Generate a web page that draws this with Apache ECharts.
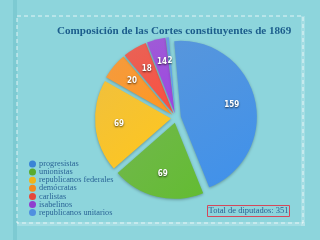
<!DOCTYPE html>
<html><head><meta charset="utf-8">
<script src="https://cdn.jsdelivr.net/npm/echarts@6/dist/echarts.min.js"></script>
<style>html,body{margin:0;padding:0;background:#8dd5dc;}#c{width:320px;height:240px;}</style>
</head><body><div id="c"></div>
<script>
const title = 'Composición de las Cortes constituyentes de 1869';
const categories = ['progresistas','unionistas','republicanos federales','demócratas','carlistas','isabelinos','republicanos unitarios'];
const seats = [159, 69, 69, 20, 18, 14, 2];
const colors = ['#3a84d6','#5aab2e','#efb51a','#f38a1e','#e5483a','#8f3fcf','#4f8fe0'];
const totalLabel = 'Total de diputados: 351';

const chart = echarts.init(document.getElementById('c'), null, {renderer:'canvas'});
const center = [176, 118];
const R = 76;
const pieData = categories.map((n,i)=>({
  name:n, value:seats[i], selected:true,
  itemStyle:{color:new echarts.graphic.LinearGradient(0,0,1,1,[{offset:0,color:echarts.color.lift(colors[i],0.15)},{offset:1,color:echarts.color.lift(colors[i],-0.1)}])}
}));
chart.setOption({
  backgroundColor:'#8dd5dc',
  animation:false,
  color: colors,
  title:{text:title,left:57,top:26,padding:0,
    textStyle:{fontFamily:'Liberation Serif',fontWeight:'bold',fontSize:11.1,color:'#1c5d8c'}},
  legend:{orient:'vertical',left:24,top:155,icon:'circle',itemWidth:7,itemHeight:7,itemGap:0.1,
    selectedMode:false,
    textStyle:{fontFamily:'Liberation Serif',fontSize:8.3,color:'#2a6496',padding:[0,0,0,-2]},
    data:categories.map((n,i)=>({name:n,itemStyle:{color:colors[i]}}))},
  graphic:[
    {type:'rect',shape:{x:13,y:0,width:4,height:240},style:{fill:'rgba(80,170,180,0.25)'},silent:true},
    {type:'rect',shape:{x:17,y:16,width:286,height:207},style:{fill:'none',stroke:'rgba(255,255,255,0.75)',lineWidth:1,lineDash:[4,3]},silent:true},
    {type:'rect',shape:{x:301,y:16,width:4,height:210},style:{fill:'rgba(255,255,255,0.2)'},silent:true},
    {type:'rect',shape:{x:17,y:222,width:288,height:4},style:{fill:'rgba(255,255,255,0.2)'},silent:true},
    {type:'rect',shape:{x:207.5,y:205.5,width:82,height:11},style:{fill:'none',stroke:'#d4485a',lineWidth:1},silent:true},
    {type:'text',x:248.5,y:211,style:{text:totalLabel,fontFamily:'Liberation Serif',fontSize:8.5,fill:'#2a5f92',align:'center',verticalAlign:'middle'},silent:true}
  ],
  series:[
    {type:'pie',center:center,radius:[0,R],startAngle:95,clockwise:true,selectedMode:'multiple',selectedOffset:5,
     label:{show:false},labelLine:{show:false},emphasis:{disabled:true},
     itemStyle:{shadowBlur:3,shadowColor:'rgba(0,0,0,0.3)',shadowOffsetY:1},
     data:pieData},
    {type:'pie',center:center,radius:[R*0.5,R*0.8],startAngle:95,clockwise:true,selectedMode:'multiple',selectedOffset:5,
     silent:true,emphasis:{disabled:true},itemStyle:{color:'rgba(0,0,0,0)'},labelLine:{show:false},
     avoidLabelOverlap:false,labelLayout:{hideOverlap:false},
     label:{show:true,position:'inside',formatter:'{c}',color:'#fff',fontFamily:'DejaVu Sans Condensed',fontWeight:'bold',fontSize:8,
       textShadowColor:'rgba(0,0,0,0.7)',textShadowBlur:2,textShadowOffsetY:1},
     data:categories.map((n,i)=>({name:n,value:seats[i],selected:true}))}
  ]
});
</script></body></html>
